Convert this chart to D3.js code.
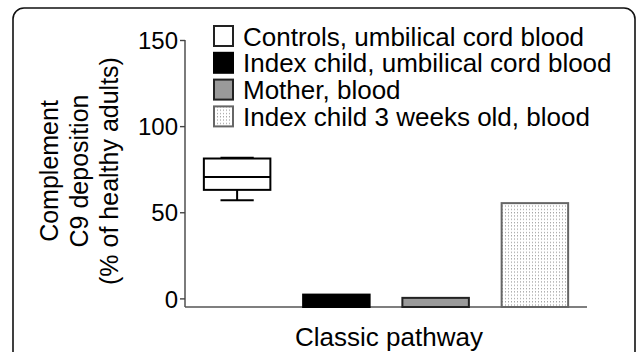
<!DOCTYPE html>
<html>
<head>
<meta charset="utf-8">
<script src="https://cdn.jsdelivr.net/npm/d3@7"></script>
<style>
  body { margin: 0; background: #fff; }
  svg { display: block; font-family: "Liberation Sans", Arial, sans-serif; }
</style>
</head>
<body>
<svg id="chart" width="637" height="352"></svg>
<script>
// groups, in drawing order
const groups = ["Controls, umbilical cord blood", "Index child, umbilical cord blood",
    "Mother, blood", "Index child 3 weeks old, blood"];
// controls are shown as a box: min, q1, median, q3, max
const controlBox = [57, 63, 70.5, 81.2, 81.6];
// single values for the three other groups
const barGroups = ["Index child, umbilical cord blood", "Mother, blood", "Index child 3 weeks old, blood"];
const barValues = [2.2, 0.3, 55.3];
const yTicks = [0, 50, 100, 150];
const yLabel = ["Complement", "C9 deposition", "(% of healthy adults)"];
const xLabel = "Classic pathway";

const fills = {
    "Controls, umbilical cord blood": "#fff",
    "Index child, umbilical cord blood": "#000",
    "Mother, blood": "#9a9a9a",
    "Index child 3 weeks old, blood": "url(#dots)"
};
const strokes = {
    "Controls, umbilical cord blood": "#222",
    "Index child, umbilical cord blood": "#000",
    "Mother, blood": "#222",
    "Index child 3 weeks old, blood": "#666"
};

const svg = d3.select("#chart");

// dotted fill
const pat = svg.append("defs").append("pattern")
    .attr("id", "dots")
    .attr("patternUnits", "userSpaceOnUse")
    .attr("width", 3).attr("height", 3.3);
pat.append("rect").attr("width", 3).attr("height", 3.3).attr("fill", "#fff");
pat.append("rect").attr("x", 1).attr("y", 1).attr("width", 1).attr("height", 1).attr("fill", "#8a8a8a");

// outer frame, bottom edge is cut off
svg.append("rect")
    .attr("x", 13).attr("y", 8)
    .attr("width", 622).attr("height", 380)
    .attr("rx", 11)
    .attr("fill", "none")
    .attr("stroke", "#111")
    .attr("stroke-width", 1.6);

const x = d3.scaleBand()
    .domain(groups)
    .range([186, 586])
    .paddingInner(0.33)
    .paddingOuter(0.18);

const y = d3.scaleLinear()
    .domain([-5, 150])
    .range([307, 40]);

// y axis
const yAxis = svg.append("g")
    .attr("transform", "translate(185,0)")
    .call(d3.axisLeft(y).tickValues(yTicks).tickSize(5).tickPadding(2));
yAxis.select(".domain").attr("d", `M0,${y(150)}V${y(-5)}`).attr("stroke", "#444").attr("stroke-width", 1.4);
yAxis.selectAll(".tick line").attr("stroke", "#444").attr("stroke-width", 1.4);
yAxis.selectAll(".tick text")
    .attr("font-size", 24)
    .attr("font-family", "Liberation Sans, Arial, sans-serif")
    .attr("fill", "#000")
    .attr("dy", "0.36em");

// x axis line
svg.append("line")
    .attr("x1", 185).attr("x2", 587)
    .attr("y1", y(-5)).attr("y2", y(-5))
    .attr("stroke", "#555").attr("stroke-width", 1.4);

// bars (from the axis base)
svg.selectAll(".bar")
    .data(barValues)
    .join("rect")
    .attr("class", "bar")
    .attr("x", (d, i) => x(barGroups[i]))
    .attr("width", x.bandwidth())
    .attr("y", d => y(d))
    .attr("height", d => y(-5) - y(d))
    .attr("fill", (d, i) => fills[barGroups[i]])
    .attr("stroke", (d, i) => strokes[barGroups[i]])
    .attr("stroke-width", 2);

// box for controls
const bx = x(groups[0]), bw = x.bandwidth();
const [bMin, bQ1, bMed, bQ3, bMax] = controlBox;
const box = svg.append("g").attr("stroke", "#000").attr("stroke-width", 2).attr("fill", "none");
box.append("line").attr("x1", bx + bw / 2).attr("x2", bx + bw / 2).attr("y1", y(bQ1)).attr("y2", y(bMin));
box.append("line").attr("x1", bx + bw / 2).attr("x2", bx + bw / 2).attr("y1", y(bQ3)).attr("y2", y(bMax));
box.append("line").attr("x1", bx + bw / 4).attr("x2", bx + bw * 3 / 4).attr("y1", y(bMin)).attr("y2", y(bMin));
box.append("line").attr("x1", bx + bw / 4).attr("x2", bx + bw * 3 / 4).attr("y1", y(bMax)).attr("y2", y(bMax));
box.append("rect").attr("x", bx).attr("width", bw)
    .attr("y", y(bQ3)).attr("height", y(bQ1) - y(bQ3)).attr("fill", "#fff");
box.append("line").attr("x1", bx).attr("x2", bx + bw).attr("y1", y(bMed)).attr("y2", y(bMed));

// legend
const legend = svg.append("g").attr("transform", "translate(213,25)");
const row = legend.selectAll("g")
    .data(groups)
    .join("g")
    .attr("transform", (d, i) => `translate(0,${i * 26.8})`);
row.append("rect")
    .attr("x", 1).attr("y", 1)
    .attr("width", 19).attr("height", 20)
    .attr("fill", d => fills[d])
    .attr("stroke", d => strokes[d])
    .attr("stroke-width", 2);
row.append("text")
    .attr("x", 30).attr("y", 20.5)
    .attr("font-size", 26)
    .text(d => d);

// y label
const yl = svg.append("text")
    .attr("transform", "translate(58,171) rotate(-90)")
    .attr("text-anchor", "middle")
    .attr("font-size", 25);
yl.selectAll("tspan")
    .data(yLabel)
    .join("tspan")
    .attr("x", 0)
    .attr("dy", (d, i) => i === 0 ? 0 : 30)
    .text(d => d);

// x label
svg.append("text")
    .attr("x", 389).attr("y", 346)
    .attr("text-anchor", "middle")
    .attr("font-size", 26)
    .text(xLabel);
</script>
</body>
</html>
